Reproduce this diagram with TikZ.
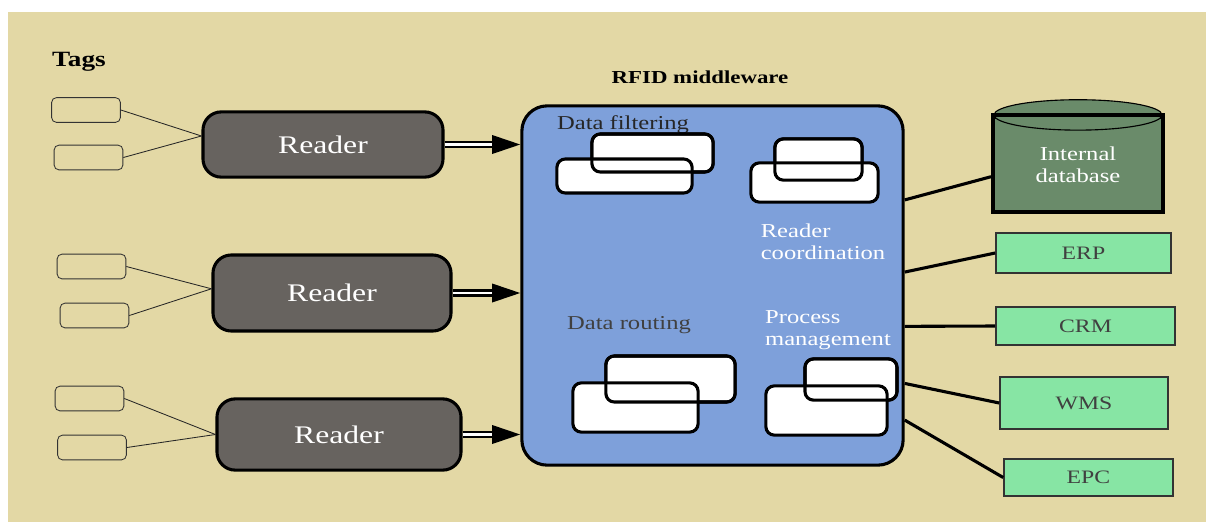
\documentclass[tikz,border=0pt]{standalone}
\usepackage{fontspec}
\setmainfont{Liberation Serif}[FakeStretch=1.25]
\usepackage{xcolor}
\usetikzlibrary{arrows.meta}

\definecolor{bgbeige}{HTML}{E3D8A5}
\definecolor{readergray}{HTML}{67635F}
\definecolor{mwblue}{HTML}{7EA0DA}
\definecolor{dbgreen}{HTML}{6A8B6A}
\definecolor{appgreen}{HTML}{87E5A4}

\begin{document}
\begin{tikzpicture}[
    x=0.025cm, y=-0.025cm,
    font=\fontsize{14}{15.6}\selectfont,
    tagbox/.style={draw=black!80, line width=0.6pt, rounded corners=3.5pt, minimum width=1.72cm, minimum height=0.62cm, inner sep=0pt},
    readerbox/.style={draw, line width=2.2pt, rounded corners=13pt, fill=readergray, text=white, inner sep=0pt, font=\fontsize{18}{20}\selectfont},
    mware/.style={draw, line width=2.2pt, rounded corners=18pt, fill=mwblue, minimum width=9.53cm, minimum height=8.98cm, inner sep=0pt},
    modbox/.style={draw, line width=2.2pt, rounded corners=6pt, fill=white, inner sep=0pt, outer sep=0pt},
    modline/.style={line width=2.2pt, rounded corners=6pt},
    dbbox/.style={draw, line width=2.8pt, fill=dbgreen, text=white, align=center, minimum width=4.25cm, minimum height=2.38cm, inner sep=0pt},
    appbox/.style={draw=black!80, line width=1pt, fill=appgreen, text=black!75, inner sep=0pt, font=\fontsize{13.5}{15}\selectfont},
    wire/.style={draw=black!85, line width=0.6pt},
    link/.style={line width=2.2pt},
    feed/.style={line width=1.8pt, double=white, double distance=2pt, -{Triangle[length=20pt, width=13pt]}},
    lbl/.style={align=left, inner sep=0pt}
]
\useasboundingbox (0,0) rectangle (1206,522);
\fill[white] (0,0) rectangle (1206,522);
\fill[bgbeige] (8,12) rectangle (1206,522);

\node[font=\fontsize{15.5}{17}\selectfont\bfseries] (tagsttl) at (79,62) {Tags};
\node[font=\fontsize{13}{15}\selectfont\bfseries] (mwttl) at (700,77) {RFID middleware};

\node[tagbox] (tag1) at (86,110) {};
\node[tagbox] (tag2) at (88.5,157.5) {};
\node[tagbox] (tag3) at (91.5,266.5) {};
\node[tagbox] (tag4) at (94.5,315.5) {};
\node[tagbox] (tag5) at (89.5,398.5) {};
\node[tagbox] (tag6) at (92,447.5) {};

\node[readerbox, minimum width=6cm, minimum height=1.63cm] (r1) at (323,144.5) {Reader};
\node[readerbox, minimum width=5.95cm, minimum height=1.9cm] (r2) at (332,293) {Reader};
\node[readerbox, minimum width=6.1cm, minimum height=1.78cm] (r3) at (339,434.5) {Reader};

\draw[wire] (tag1.east) -- (r1.176);
\draw[wire] (tag2.east) -- (r1.176);
\draw[wire] (tag3.east) -- (r2.178);
\draw[wire] (tag4.east) -- (r2.178);
\draw[wire] (tag5.east) -- (r3.west);
\draw[wire] (tag6.east) -- (r3.west);

\node[mware] (mw) at (712.5,285.5) {};

\draw[feed] (r1.east) -- (r1.east -| mw.west);
\draw[feed] (r2.east) -- (r2.east -| mw.west);
\draw[feed] (r3.east) -- (r3.east -| mw.west);

\node[text=black!85] (dflbl) at (623,125) {Data filtering};
\node[modbox, minimum width=3.03cm, minimum height=0.95cm] (df1) at (652.5,153) {};
\node[modbox, minimum width=3.38cm, minimum height=0.85cm] (df2) at (624.5,176) {};
\draw[modline] (df1.north west) rectangle (df1.south east);

\node[modbox, minimum width=2.18cm, minimum height=1.03cm] (rc1) at (818.5,159.5) {};
\node[modbox, minimum width=3.18cm, minimum height=0.98cm] (rc2) at (814.5,182.5) {};
\draw[modline] (rc1.north west) rectangle (rc1.south east);
\node[lbl, text=white] (rclbl) at (823,242) {Reader\\coordination};

\node[text=black!75] (drlbl) at (629,325) {Data routing};
\node[modbox, minimum width=3.23cm, minimum height=1.15cm] (dr1) at (670.5,379) {};
\node[modbox, minimum width=3.13cm, minimum height=1.23cm] (dr2) at (635.5,407.5) {};
\draw[modline] (dr1.north west) rectangle (dr1.south east);

\node[lbl, text=white] (pmlbl) at (828,330) {Process\\management};
\node[modbox, minimum width=2.3cm, minimum height=1.03cm] (pm1) at (851,379.5) {};
\node[modbox, minimum width=3.03cm, minimum height=1.23cm] (pm2) at (826.5,410.5) {};
\draw[modline] (pm1.north west) rectangle (pm1.south east);

\node[dbbox] (db) at (1078,164.5) {Internal\\database};
\draw[line width=0.8pt, fill=dbgreen] (db.north) ellipse [x radius=2.1cm, y radius=0.38cm];
\draw[line width=2.8pt] (db.north west) -- (db.north east);

\node[appbox, minimum width=4.38cm, minimum height=1cm] (erp) at (1083.5,253) {ERP};
\node[appbox, minimum width=4.48cm, minimum height=0.95cm] (crm) at (1085.5,326) {CRM};
\node[appbox, minimum width=4.2cm, minimum height=1.3cm] (wms) at (1084,403) {WMS};
\node[appbox, minimum width=4.23cm, minimum height=0.93cm] (epc) at (1088.5,477.5) {EPC};

\draw[link] (mw.24) -- (db.188);
\draw[link] (mw.4) -- (erp.west);
\draw[link] (mw.-12) -- (crm.west);
\draw[link] (mw.-27) -- (wms.west);
\draw[link] (mw.-35) -- (epc.west);
\end{tikzpicture}
\end{document}
